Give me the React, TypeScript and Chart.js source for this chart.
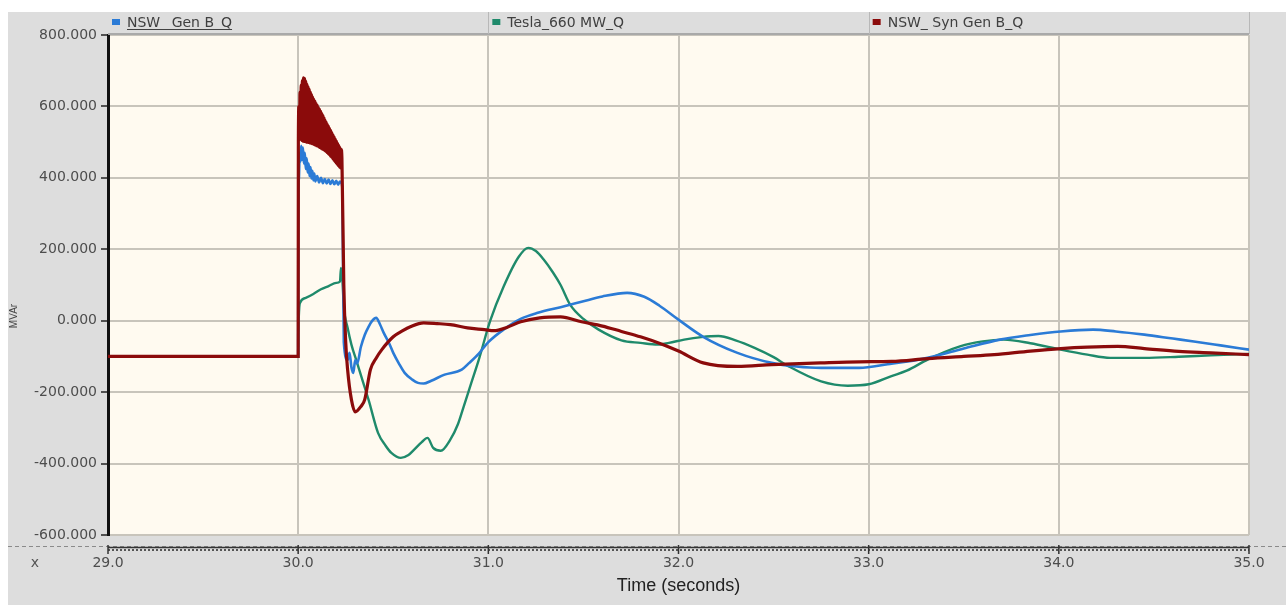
import React, { useEffect, useRef } from 'react';
import { Chart, registerables } from 'chart.js';

Chart.register(...registerables);

// ---- Data (time in seconds, value in MVAr) ----
const seriesNames = ['NSW_ Gen B_Q', 'Tesla_660 MW_Q', 'NSW_ Syn Gen B_Q'];
const seriesColors = ['#2b7bd6', '#1f8a6b', '#8b0b0b'];

const xTicks = [29, 30, 31, 32, 33, 34, 35];
const yTicks = [-600, -400, -200, 0, 200, 400, 600, 800];

const nswGenBQ: [number, number][] = [
  [29.0, -100], [30.0, -100], [30.001, 330], [30.004, 400], [30.008, 470], [30.012, 445],
  [30.016, 490], [30.02, 450], [30.025, 485], [30.03, 440], [30.035, 470], [30.04, 425],
  [30.045, 455], [30.05, 415], [30.055, 440], [30.06, 405], [30.065, 430], [30.07, 398],
  [30.075, 420], [30.08, 393], [30.085, 412], [30.09, 390], [30.10, 405], [30.11, 387],
  [30.12, 400], [30.13, 385], [30.14, 397], [30.15, 384], [30.16, 395], [30.17, 383],
  [30.18, 393], [30.19, 382], [30.20, 392], [30.21, 381], [30.22, 390], [30.232, 375],
  [30.24, -60], [30.26, -110], [30.27, -90], [30.28, -130], [30.29, -146], [30.30, -110],
  [30.31, -120], [30.33, -73], [30.35, -40], [30.37, -17], [30.39, 0], [30.41, 8],
  [30.43, -10], [30.45, -34], [30.48, -65], [30.50, -90], [30.53, -120], [30.56, -146],
  [30.60, -165], [30.63, -174], [30.66, -176], [30.70, -168], [30.77, -151], [30.86, -137],
  [30.90, -118], [30.95, -92], [31.0, -60], [31.08, -25], [31.17, 5], [31.26, 22],
  [31.38, 38], [31.49, 53], [31.60, 68], [31.73, 78], [31.82, 67], [31.90, 42],
  [32.0, 3], [32.13, -45], [32.31, -90], [32.49, -118], [32.62, -128], [32.75, -132],
  [32.95, -132], [33.10, -122], [33.31, -104], [33.50, -78], [33.69, -53], [33.85, -40],
  [34.01, -30], [34.18, -25], [34.30, -30], [34.45, -39], [34.60, -50], [34.71, -58],
  [34.85, -69], [35.0, -81],
];

const tesla660Q: [number, number][] = [
  [29.0, -100], [30.0, -100], [30.001, -40], [30.005, 30], [30.01, 50], [30.04, 64],
  [30.08, 75], [30.12, 88], [30.16, 97], [30.20, 106], [30.22, 110], [30.225, 148],
  [30.232, 120], [30.24, 40], [30.26, -20], [30.28, -67], [30.31, -118], [30.34, -170],
  [30.37, -221], [30.42, -314], [30.46, -350], [30.49, -370], [30.54, -384], [30.58, -376],
  [30.61, -361], [30.65, -340], [30.68, -328], [30.71, -356], [30.75, -364], [30.80, -333],
  [30.84, -290], [30.87, -241], [30.91, -175], [30.95, -109], [31.01, 0], [31.08, 95],
  [31.16, 179], [31.21, 204], [31.25, 195], [31.29, 172], [31.34, 135], [31.38, 100],
  [31.43, 45], [31.50, 5], [31.58, -25], [31.70, -55], [31.80, -62], [31.89, -67],
  [31.95, -62], [32.03, -53], [32.12, -46], [32.21, -43], [32.30, -55], [32.40, -76],
  [32.50, -102], [32.58, -128], [32.75, -170], [32.89, -182], [33.0, -178], [33.12, -155],
  [33.20, -140], [33.31, -109], [33.48, -72], [33.60, -58], [33.71, -53], [33.85, -63],
  [34.01, -81], [34.15, -95], [34.27, -104], [34.45, -104], [34.63, -101], [34.80, -97],
  [35.0, -93],
];

const nswSynGenBQ: [number, number][] = [
  [29.0, -100], [30.0, -100], [30.001, 500], [30.004, 600], [30.007, 510], [30.010, 640],
  [30.013, 508], [30.016, 660], [30.019, 505], [30.022, 672], [30.025, 503], [30.028, 680],
  [30.031, 502], [30.034, 678], [30.037, 502], [30.040, 670], [30.043, 500], [30.046, 662],
  [30.049, 500], [30.052, 655], [30.055, 499], [30.058, 648], [30.061, 498], [30.064, 640],
  [30.067, 497], [30.070, 633], [30.073, 496], [30.076, 626], [30.079, 495], [30.082, 620],
  [30.085, 493], [30.088, 614], [30.091, 492], [30.094, 608], [30.097, 490], [30.100, 603],
  [30.103, 489], [30.106, 597], [30.109, 487], [30.112, 592], [30.115, 485], [30.118, 586],
  [30.121, 483], [30.124, 580], [30.127, 481], [30.130, 574], [30.133, 479], [30.136, 568],
  [30.139, 476], [30.142, 562], [30.145, 474], [30.148, 556], [30.151, 471], [30.154, 550],
  [30.157, 468], [30.160, 544], [30.163, 465], [30.166, 538], [30.169, 461], [30.172, 532],
  [30.175, 458], [30.178, 526], [30.181, 454], [30.184, 520], [30.187, 450], [30.190, 514],
  [30.193, 446], [30.196, 508], [30.199, 442], [30.202, 502], [30.205, 438], [30.208, 496],
  [30.211, 434], [30.214, 490], [30.217, 430], [30.220, 485], [30.223, 428], [30.226, 480],
  [30.230, 455], [30.24, 100], [30.25, -60], [30.26, -137], [30.28, -221], [30.30, -255],
  [30.33, -240], [30.35, -221], [30.38, -137], [30.41, -105], [30.44, -81], [30.50, -45],
  [30.55, -28], [30.59, -17], [30.66, -6], [30.73, -8], [30.80, -11], [30.89, -20],
  [30.98, -25], [31.03, -28], [31.10, -18], [31.17, -3], [31.27, 8], [31.38, 11],
  [31.49, -3], [31.60, -15], [31.70, -30], [31.80, -45], [31.92, -67], [32.0, -85],
  [32.13, -118], [32.31, -128], [32.49, -123], [32.75, -118], [32.95, -115], [33.12, -114],
  [33.31, -106], [33.50, -100], [33.66, -95], [33.85, -85], [34.01, -78], [34.15, -74],
  [34.31, -72], [34.45, -78], [34.63, -86], [34.80, -90], [35.0, -95],
];

const yAxisTitle = 'MVAr';
const xAxisTitle = 'Time (seconds)';

const TICK_FONT = 'DejaVu Sans';

const framePlugin = {
  id: 'frame',
  beforeDraw(chart: any) {
    const { ctx, chartArea: a, width, height } = chart;
    ctx.save();
    ctx.fillStyle = '#ffffff';
    ctx.fillRect(0, 0, width, height);
    ctx.fillStyle = '#dddddd';
    ctx.fillRect(8, 12, width - 8, height - 12);
    ctx.fillStyle = '#fffaf0';
    ctx.fillRect(a.left, a.top, a.right - a.left, a.bottom - a.top);
    ctx.restore();
  },
  afterDraw(chart: any) {
    const { ctx, chartArea: a, width } = chart;
    ctx.save();
    // header strip with legend
    const colW = (a.right - a.left) / 3;
    ctx.strokeStyle = '#a9a9a9';
    ctx.lineWidth = 2;
    ctx.beginPath();
    ctx.moveTo(a.left, 34);
    ctx.lineTo(a.right, 34);
    ctx.stroke();
    ctx.strokeStyle = '#b8b8b8';
    ctx.lineWidth = 1;
    for (let i = 1; i <= 3; i++) {
      const x = Math.round(a.left + colW * i) + 0.5;
      ctx.beginPath();
      ctx.moveTo(x, 12);
      ctx.lineTo(x, 34);
      ctx.stroke();
    }
    ctx.font = `14px ${TICK_FONT}`;
    ctx.textBaseline = 'middle';
    ctx.textAlign = 'left';
    seriesNames.forEach((name, i) => {
      const x0 = a.left + colW * i;
      ctx.fillStyle = seriesColors[i];
      ctx.fillRect(x0 + 4, 19, 8, 6);
      ctx.fillStyle = '#404040';
      ctx.fillText(name, x0 + 19, 23);
      if (i === 0) {
        const w = ctx.measureText(name).width;
        ctx.strokeStyle = '#404040';
        ctx.lineWidth = 1;
        ctx.beginPath();
        ctx.moveTo(x0 + 19, 29.5);
        ctx.lineTo(x0 + 19 + w, 29.5);
        ctx.stroke();
      }
    });

    // dashed separator and x ruler
    ctx.strokeStyle = '#8a8a8a';
    ctx.lineWidth = 1;
    ctx.setLineDash([4, 3]);
    ctx.beginPath();
    ctx.moveTo(8, 546.5);
    ctx.lineTo(width, 546.5);
    ctx.stroke();
    ctx.setLineDash([]);
    ctx.strokeStyle = '#333333';
    ctx.lineWidth = 1.5;
    ctx.beginPath();
    ctx.moveTo(a.left, 547.5);
    ctx.lineTo(a.right, 547.5);
    ctx.stroke();
    ctx.strokeStyle = '#555555';
    ctx.lineWidth = 2;
    ctx.setLineDash([2, 2]);
    ctx.beginPath();
    ctx.moveTo(a.left, 550);
    ctx.lineTo(a.right, 550);
    ctx.stroke();
    ctx.setLineDash([]);
    const xs = chart.scales.x;
    ctx.strokeStyle = '#333333';
    ctx.lineWidth = 1.5;
    xs.ticks.forEach((t: any) => {
      const px = xs.getPixelForValue(t.value);
      ctx.beginPath();
      ctx.moveTo(px, 545);
      ctx.lineTo(px, 554);
      ctx.stroke();
    });

    // "x" marker label
    ctx.fillStyle = '#555555';
    ctx.font = `14px ${TICK_FONT}`;
    ctx.textAlign = 'center';
    ctx.textBaseline = 'middle';
    ctx.fillText('x', 35, 563);

    // y axis title
    ctx.translate(14, 316);
    ctx.rotate(-Math.PI / 2);
    ctx.font = '10px "Liberation Sans"';
    ctx.fillStyle = '#444444';
    ctx.fillText(yAxisTitle, 0, 0);
    ctx.restore();
  },
};

function toPoints(arr: [number, number][]) {
  return arr.map(([x, y]) => ({ x, y }));
}

export default function App() {
  const canvasRef = useRef<HTMLCanvasElement | null>(null);

  useEffect(() => {
    if (!canvasRef.current) return;
    const gridColor = '#c8c4bb';
    const lineCommon = {
      pointRadius: 0,
      cubicInterpolationMode: 'monotone',
    };
    const chart = new Chart(canvasRef.current, {
      type: 'line',
      data: {
        datasets: [
          {
            ...lineCommon,
            label: seriesNames[2],
            data: toPoints(nswSynGenBQ),
            borderColor: seriesColors[2],
            borderWidth: 3.2,
            order: 0,
          },
          {
            ...lineCommon,
            label: seriesNames[0],
            data: toPoints(nswGenBQ),
            borderColor: seriesColors[0],
            borderWidth: 2.6,
            order: 1,
          },
          {
            ...lineCommon,
            label: seriesNames[1],
            data: toPoints(tesla660Q),
            borderColor: seriesColors[1],
            borderWidth: 2.4,
            order: 2,
          },
        ],
      },
      options: {
        animation: false,
        responsive: false,
        maintainAspectRatio: false,
        layout: { padding: { left: 0, right: 37, top: 35, bottom: 0 } },
        plugins: {
          legend: { display: false },
          tooltip: { enabled: false },
        },
        scales: {
          x: {
            type: 'linear',
            min: xTicks[0],
            max: xTicks[xTicks.length - 1],
            afterBuildTicks: (s: any) => {
              s.ticks = xTicks.map((v) => ({ value: v }));
            },
            afterFit: (s: any) => {
              s.height = 70;
            },
            ticks: {
              callback: (v: any) => Number(v).toFixed(1),
              font: { family: TICK_FONT, size: 14 },
              color: '#4d4d4d',
              padding: 20,
              maxRotation: 0,
              autoSkip: false,
            },
            grid: { color: gridColor, lineWidth: 2, drawTicks: false },
            border: { display: false },
            title: {
              display: true,
              text: xAxisTitle,
              font: { family: 'Liberation Sans', size: 18 },
              color: '#222222',
              padding: { top: 0, bottom: 8 },
            },
          },
          y: {
            type: 'linear',
            min: yTicks[0],
            max: yTicks[yTicks.length - 1],
            afterBuildTicks: (s: any) => {
              s.ticks = yTicks.map((v) => ({ value: v }));
            },
            afterFit: (s: any) => {
              s.width = 108;
            },
            ticks: {
              callback: (v: any) => Number(v).toFixed(3),
              font: { family: TICK_FONT, size: 14 },
              color: '#4d4d4d',
              padding: 4,
              autoSkip: false,
            },
            grid: {
              color: gridColor,
              lineWidth: 2,
              tickColor: '#222222',
              tickLength: 7,
              tickWidth: 1.5,
            },
            border: { display: true, color: '#111111', width: 3 },
          },
        },
      },
      plugins: [framePlugin],
    } as any);
    return () => chart.destroy();
  }, []);

  return (
    <div style={{ position: 'fixed', left: 0, top: 0, width: 1286, height: 605, background: '#fff' }}>
      <canvas ref={canvasRef} width={1286} height={605} style={{ display: 'block', width: 1286, height: 605 }} />
    </div>
  );
}
